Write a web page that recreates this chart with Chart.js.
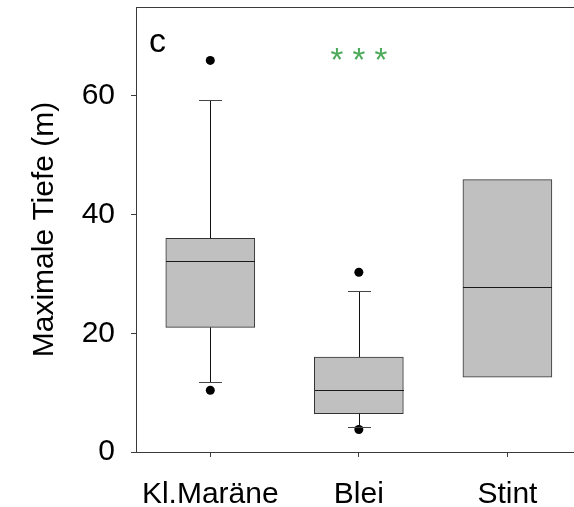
<!DOCTYPE html>
<html>
<head>
<meta charset="utf-8">
<script src="https://cdn.jsdelivr.net/npm/chart.js@4.4.1/dist/chart.umd.min.js"></script>
<style>
    html, body { margin: 0; padding: 0; background: #fff; }
    #wrap { width: 574px; height: 507px; }
</style>
</head>
<body>
<div id="wrap"><canvas id="boxChart" width="574" height="507"></canvas></div>
<script>
// values
const categories = ['Kl.Maräne', 'Blei', 'Stint'];
const q1 = [21.0, 6.45, 12.6];
const q3 = [36.0, 16.0, 45.9];
const medians = [32.2, 10.4, 27.8];
const whiskerLow = [11.8, 4.2, null];
const whiskerHigh = [59.3, 27.2, null];
const outliers = [[66.0, 10.4], [30.3, 3.8], []];
const yTicks = [0, 20, 40, 60];

const FONT = "'Liberation Sans', Arial, sans-serif";
const AXIS = '#3a3a3a';

const boxData = categories.map((c, i) => ({ x: i + 1, y: [q1[i], q3[i]] }));
const outlierData = [];
outliers.forEach((list, i) => list.forEach(v => outlierData.push({ x: i + 1, y: v })));

// whiskers, caps, medians, frame, panel letter and significance stars
const boxExtras = {
    id: 'boxExtras',
    afterDatasetsDraw(chart) {
        const ctx = chart.ctx;
        const xs = chart.scales.x;
        const ys = chart.scales.y;
        const area = chart.chartArea;
        ctx.save();

        // top frame line, and the axis line running on to the cut edge
        ctx.strokeStyle = AXIS;
        ctx.lineWidth = 1;
        ctx.beginPath();
        ctx.moveTo(area.left, Math.round(area.top) + 0.5);
        ctx.lineTo(chart.width, Math.round(area.top) + 0.5);
        ctx.moveTo(area.right - 1, Math.round(area.bottom) + 0.5);
        ctx.lineTo(chart.width, Math.round(area.bottom) + 0.5);
        ctx.stroke();

        categories.forEach((c, i) => {
            const cx = Math.round(xs.getPixelForValue(i + 1)) + 0.5;
            const half = 44.5;
            // median
            const my = Math.round(ys.getPixelForValue(medians[i])) + 0.5;
            ctx.strokeStyle = '#1a1a1a';
            ctx.beginPath();
            ctx.moveTo(cx - half, my);
            ctx.lineTo(cx + half, my);
            ctx.stroke();

            if (whiskerHigh[i] !== null) {
                const top = Math.round(ys.getPixelForValue(whiskerHigh[i])) + 0.5;
                const boxTop = ys.getPixelForValue(q3[i]);
                ctx.strokeStyle = '#111';
                ctx.beginPath();
                ctx.moveTo(cx, boxTop);
                ctx.lineTo(cx, top);
                ctx.stroke();
                ctx.strokeStyle = '#444';
                ctx.beginPath();
                ctx.moveTo(cx - 11.5, top);
                ctx.lineTo(cx + 11.5, top);
                ctx.stroke();
            }
            if (whiskerLow[i] !== null) {
                const bot = Math.round(ys.getPixelForValue(whiskerLow[i])) + 0.5;
                const boxBot = ys.getPixelForValue(q1[i]);
                ctx.strokeStyle = '#111';
                ctx.beginPath();
                ctx.moveTo(cx, boxBot);
                ctx.lineTo(cx, bot);
                ctx.stroke();
                ctx.strokeStyle = '#444';
                ctx.beginPath();
                ctx.moveTo(cx - 11.5, bot);
                ctx.lineTo(cx + 11.5, bot);
                ctx.stroke();
            }
        });

        // panel letter
        ctx.fillStyle = '#000';
        ctx.font = '34px ' + FONT;
        ctx.textAlign = 'left';
        ctx.textBaseline = 'alphabetic';
        ctx.fillText('c', area.left + 13, 52);

        // significance stars above Blei
        ctx.fillStyle = '#4caa5a';
        ctx.font = '33px ' + FONT;
        ctx.textAlign = 'center';
        ctx.fillText('* * *', xs.getPixelForValue(2), 71);
        ctx.restore();
    }
};

const ctx = document.getElementById('boxChart').getContext('2d');
new Chart(ctx, {
    data: {
        datasets: [{
            type: 'bar',
            data: boxData,
            backgroundColor: '#c0c0c0',
            borderColor: '#333',
            borderWidth: 1,
            borderSkipped: false,
            barThickness: 89
        }, {
            type: 'scatter',
            data: outlierData,
            pointRadius: 4.5,
            pointBackgroundColor: '#000',
            pointBorderColor: '#000',
            pointBorderWidth: 0
        }]
    },
    options: {
        responsive: false,
        animation: false,
        layout: { padding: { top: 7, right: 0, left: 0, bottom: 0 } },
        plugins: {
            legend: { display: false },
            tooltip: { enabled: false }
        },
        scales: {
            x: {
                type: 'linear',
                min: 0.5,
                max: 3.418,
                offset: false,
                afterBuildTicks: axis => { axis.ticks = [1, 2, 3].map(v => ({ value: v })); },
                afterFit: axis => {
                    axis.height = 55;
                    axis.paddingLeft = 0;
                    axis.paddingRight = 0;
                },
                grid: { offset: false, drawOnChartArea: false, drawTicks: true, tickLength: 5, color: AXIS },
                border: { display: true, color: AXIS, width: 1 },
                ticks: {
                    color: '#000',
                    padding: 20,
                    maxRotation: 0,
                    autoSkip: false,
                    font: { family: FONT, size: 30 },
                    callback: v => categories[v - 1]
                }
            },
            y: {
                min: 0,
                max: 75,
                afterBuildTicks: axis => { axis.ticks = yTicks.map(v => ({ value: v })); },
                afterFit: axis => {
                    axis.width = 136;
                    axis.paddingTop = 0;
                    axis.paddingBottom = 0;
                },
                grid: { drawOnChartArea: false, drawTicks: true, tickLength: 5, color: AXIS },
                border: { display: true, color: AXIS, width: 1 },
                ticks: {
                    color: '#000',
                    padding: 16,
                    font: { family: FONT, size: 30 }
                },
                title: {
                    display: true,
                    text: 'Maximale Tiefe (m)',
                    color: '#000',
                    font: { family: FONT, size: 30 },
                    padding: { top: 27, bottom: 0 }
                }
            }
        }
    },
    plugins: [boxExtras]
});
</script>
</body>
</html>
